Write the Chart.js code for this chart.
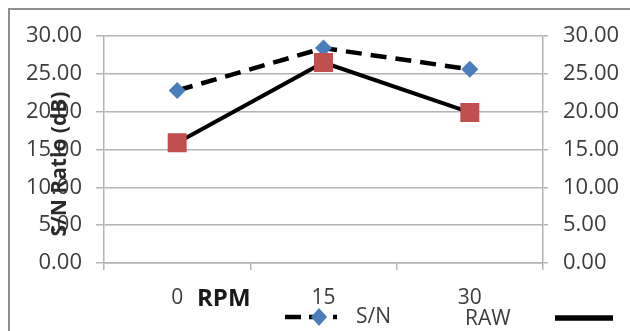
<!DOCTYPE html>
<html>
<head>
<meta charset="utf-8">
<script src="https://cdn.jsdelivr.net/npm/chart.js@4/dist/chart.umd.min.js"></script>
<style>
  html, body { margin: 0; padding: 0; background: #fff; }
  #wrap { position: relative; width: 630px; height: 331px; overflow: hidden; }
  #frame { position: absolute; left: 8px; top: 8px; width: 640px; height: 340px;
           border-top: 2px solid #8e8e8e; border-left: 2px solid #8e8e8e; box-sizing: border-box; }
  canvas { position: absolute; left: 0; top: 0; }
</style>
</head>
<body>
<div id="wrap">
  <div id="frame"></div>
  <canvas id="c" width="630" height="331"></canvas>
</div>
<script>
const categories = ['0', '15', '30'];
const snValues = [22.8, 28.4, 25.6];
const rawValues = [15.9, 26.5, 19.9];
const seriesNames = ['S/N', 'RAW'];
const yMin = 0, yMax = 30, yStep = 5;
const yTitle = 'S/N Ratio (dB)';
const xTitle = 'RPM';

const FONT = "'Open Sans', 'Liberation Sans', sans-serif";
const gridColor = '#b4b4b4';
const tickColor = '#3c3c3c';

const overlayPlugin = {
  id: 'overlay',
  afterDraw(chart) {
    const ctx = chart.ctx;
    ctx.save();
    // y axis title (overlapping tick labels as in the reference)
    ctx.save();
    ctx.translate(60, 164);
    ctx.rotate(-Math.PI / 2);
    ctx.font = 'bold 21px ' + FONT;
    ctx.fillStyle = '#2a2a2a';
    ctx.textAlign = 'center';
    ctx.textBaseline = 'middle';
    ctx.fillText(yTitle, 0, 0);
    ctx.restore();
    // x axis title
    ctx.font = 'bold 24px ' + FONT;
    ctx.fillStyle = '#1a1a1a';
    ctx.textAlign = 'left';
    ctx.textBaseline = 'middle';
    ctx.fillText(xTitle, 197, 299);
    // legend: S/N
    ctx.strokeStyle = '#000';
    ctx.lineWidth = 4.5;
    ctx.setLineDash([16, 8]);
    ctx.beginPath(); ctx.moveTo(285, 317); ctx.lineTo(337, 317); ctx.stroke();
    ctx.setLineDash([]);
    ctx.fillStyle = '#4a7ebb';
    ctx.beginPath();
    ctx.moveTo(319, 308); ctx.lineTo(327, 317); ctx.lineTo(319, 326); ctx.lineTo(311, 317); ctx.closePath();
    ctx.fill();
    ctx.font = '21px ' + FONT;
    ctx.fillStyle = tickColor;
    ctx.fillText(seriesNames[0], 356, 317);
    // legend: RAW
    ctx.fillText(seriesNames[1], 465, 319);
    ctx.lineWidth = 5.5;
    ctx.beginPath(); ctx.moveTo(555, 318); ctx.lineTo(613, 318); ctx.stroke();
    ctx.restore();
  }
};

new Chart(document.getElementById('c'), {
  type: 'line',
  data: {
    labels: categories,
    datasets: [
      {
        label: seriesNames[0],
        data: snValues,
        borderColor: '#000',
        borderWidth: 4.5,
        borderDash: [16, 9],
        pointStyle: 'rectRot',
        pointRadius: 8.5,
        pointBackgroundColor: '#4a7ebb',
        pointBorderColor: '#4a7ebb',
        pointBorderWidth: 0,
        tension: 0,
        order: 1,
        yAxisID: 'y'
      },
      {
        label: seriesNames[1],
        data: rawValues,
        borderColor: '#000',
        borderWidth: 4,
        pointStyle: 'rect',
        pointRadius: 13.4,
        pointBackgroundColor: '#c0504d',
        pointBorderColor: '#c0504d',
        pointBorderWidth: 0,
        tension: 0,
        order: 0,
        yAxisID: 'y'
      }
    ]
  },
  options: {
    responsive: false,
    animation: false,
    devicePixelRatio: 1,
    layout: { padding: { top: 36, left: 0, right: 0, bottom: 0 } },
    plugins: { legend: { display: false }, tooltip: { enabled: false } },
    scales: {
      x: {
        type: 'category',
        offset: true,
        grid: { offset: true, drawOnChartArea: false, drawTicks: true, tickLength: 7, color: gridColor, lineWidth: 1.5 },
        border: { display: true, color: gridColor, width: 1.5 },
        ticks: { color: tickColor, font: { family: FONT, size: 21 }, padding: 15, maxRotation: 0 },
        afterFit(s) { s.height = 331 - 263; }
      },
      y: {
        position: 'left',
        min: yMin, max: yMax,
        ticks: { stepSize: yStep, color: tickColor, font: { family: FONT, size: 22 }, padding: 14,
                 callback: v => Number(v).toFixed(2) },
        grid: { color: gridColor, lineWidth: 1.5, tickLength: 8 },
        border: { display: true, color: gridColor, width: 1.5 },
        afterFit(s) { s.width = 104; }
      },
      y1: {
        position: 'right',
        min: yMin, max: yMax,
        ticks: { stepSize: yStep, color: tickColor, font: { family: FONT, size: 22 }, padding: 15,
                 callback: v => Number(v).toFixed(2) },
        grid: { drawOnChartArea: false, color: gridColor, lineWidth: 1.5, tickLength: 5 },
        border: { display: true, color: gridColor, width: 1.5 },
        afterFit(s) { s.width = 630 - 543; }
      }
    }
  },
  plugins: [overlayPlugin]
});
</script>
</body>
</html>
